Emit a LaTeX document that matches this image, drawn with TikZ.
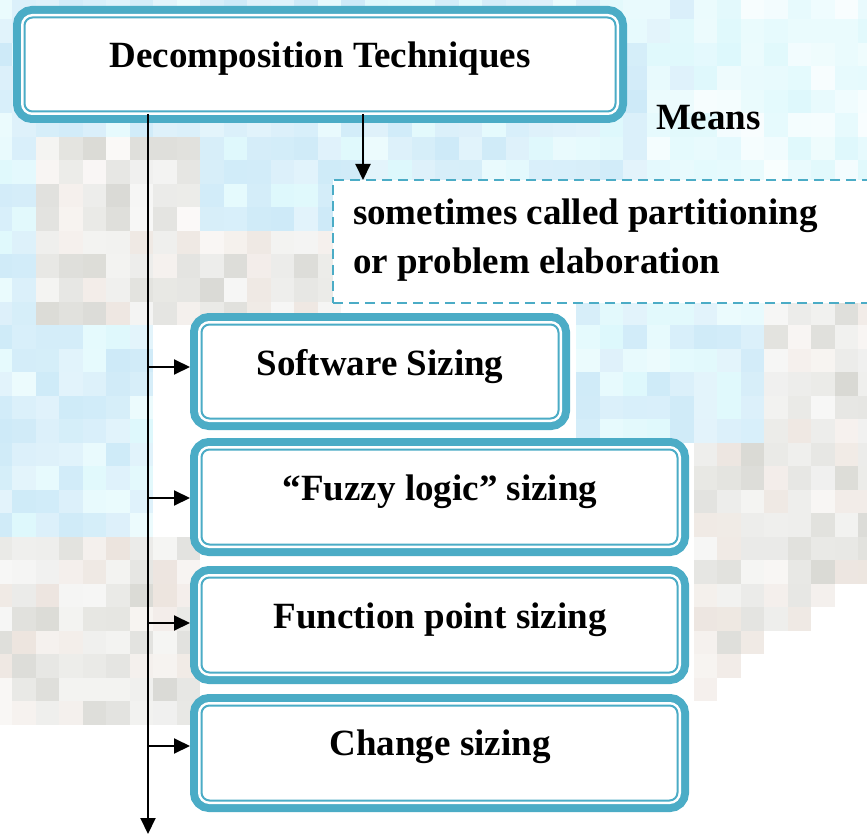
\documentclass[tikz,border=0pt]{standalone}
\usepackage{fontspec}
\setmainfont{Liberation Serif}
\usetikzlibrary{arrows.meta}
\definecolor{cB}{HTML}{4BACC6}
\definecolor{bgblue}{HTML}{CDEAF8}
\definecolor{bgcyan}{HTML}{DDF8FC}
\definecolor{bggray}{HTML}{D8D8D3}
\definecolor{bgbeige}{HTML}{ECE4DE}
\begin{document}
\begin{tikzpicture}[x=1pt,y=-1pt,
  box/.style={rectangle, rounded corners=8pt, draw=cB, line width=2pt, fill=white,
    inner sep=0pt, outer sep=11.5pt,
    preaction={draw=cB, line width=23pt},
    preaction={draw=white, line width=7pt}},
  lbl/.style={inner sep=0pt, outer sep=0pt, font=\fontsize{37}{44}\selectfont\bfseries},
  arr/.style={line width=2pt, -{Triangle[length=16pt,width=15pt]}},
  dbox/.style={draw=cB, line width=2.5pt, dash pattern=on 10pt off 6pt, fill=white,
    inner sep=0pt, outer sep=0pt},
]
\path[use as bounding box, clip] (0,0) rectangle (867,834);
\fill[white] (0,0) rectangle (867,834);
% pixelated background
\pgfmathsetseed{7}
\foreach \i in {0,...,37}{
  \foreach \j in {0,...,35}{
    \pgfmathsetmacro\cx{-11.5+(\i+0.5)*23.5}
    \pgfmathsetmacro\cy{-4+(\j+0.5)*23.5}
    \pgfmathtruncatemacro\zone{((\cy<135 && \cx<700) || (\cy<185 && \cx>330 && \cx<640) || (\cy<235 && \cx>200 && \cx<340) || (\cx<28 && \cy<330) || (\cx<160 && \cy>330 && \cy<545) || (\cy>300 && \cy<440 && \cx>570 && \cx<760)) ? 1 : (((\cy<330 && \cx<210) || (\cy<320 && \cx<340 && \cy>=235) || (\cy>=545 && \cy<720 && \cx<195) || (\cx>=760 && \cy>300 && \cy<440) || (\cx>=690 && \cy>=440 && \cy<700-(\cx-690)*0.7)) ? 2 : ((\cy<300 && \cx>=640) ? 3 : 0))}
    \pgfmathtruncatemacro\p{20+80*rnd}
    \pgfmathtruncatemacro\pb{55+45*rnd}
    \pgfmathtruncatemacro\q{rnd<0.3 ? 1 : 0}
    \ifcase\zone
    \or
      \ifnum\q=1
        \fill[bgcyan!\pb!white] (-11.5+\i*23.5,-4+\j*23.5) rectangle ++(23.8,23.8);
      \else
        \fill[bgblue!\pb!white] (-11.5+\i*23.5,-4+\j*23.5) rectangle ++(23.8,23.8);
      \fi
    \or
      \ifnum\q=1
        \fill[bgbeige!\p!white] (-11.5+\i*23.5,-4+\j*23.5) rectangle ++(23.8,23.8);
      \else
        \fill[bggray!\p!white] (-11.5+\i*23.5,-4+\j*23.5) rectangle ++(23.8,23.8);
      \fi
    \or
      \fill[bgcyan!\p!white] (-11.5+\i*23.5,-4+\j*23.5) rectangle ++(23.8,23.8);
    \fi
  }
}
% boxes
\node[box, minimum width=591pt, minimum height=94pt] (dt) at (320,64.5) {};
\node[dbox, minimum width=560pt, minimum height=123pt, anchor=north west] (db) at (333,180) {};
\node[box, minimum width=357pt, minimum height=94pt] (ss) at (380,371.5) {};
\node[box, minimum width=476pt, minimum height=95pt] (fz) at (439.5,497) {};
\node[box, minimum width=476pt, minimum height=95pt] (fp) at (439.5,625) {};
\node[box, minimum width=476pt, minimum height=95pt] (cs) at (439.5,753) {};
% texts
\node[lbl, anchor=base] (t1) at (320,68) {Decomposition Techniques};
\node[lbl, anchor=base west] (t2) at (656,130) {Means};
\node[lbl, anchor=base west] (t3) at (353,225) {sometimes called partitioning};
\node[lbl, anchor=base west] (t4) at (353,273) {or problem elaboration};
\node[lbl, anchor=base] (t5) at (380,375) {Software Sizing};
\node[lbl, anchor=base] (t6) at (440,500) {“Fuzzy logic” sizing};
\node[lbl, anchor=base] (t7) at (440,628) {Function point sizing};
\node[lbl, anchor=base] (t8) at (440,755) {Change sizing};
% connectors
\coordinate (trTop) at (148,114);
\coordinate (trEnd) at (148,834);
\draw[arr] (trTop) -- (trEnd);
\coordinate (mTop) at (363,114);
\draw[arr] (mTop) -- (mTop |- db.north);
\coordinate (h1) at (148,367);
\coordinate (h2) at (148,498);
\coordinate (h3) at (147,623);
\coordinate (h4) at (147,746);
\draw[arr] (h1) -- (h1 -| ss.west);
\draw[arr] (h2) -- (h2 -| fz.west);
\draw[arr] (h3) -- (h3 -| fp.west);
\draw[arr] (h4) -- (h4 -| cs.west);
\end{tikzpicture}
\end{document}
